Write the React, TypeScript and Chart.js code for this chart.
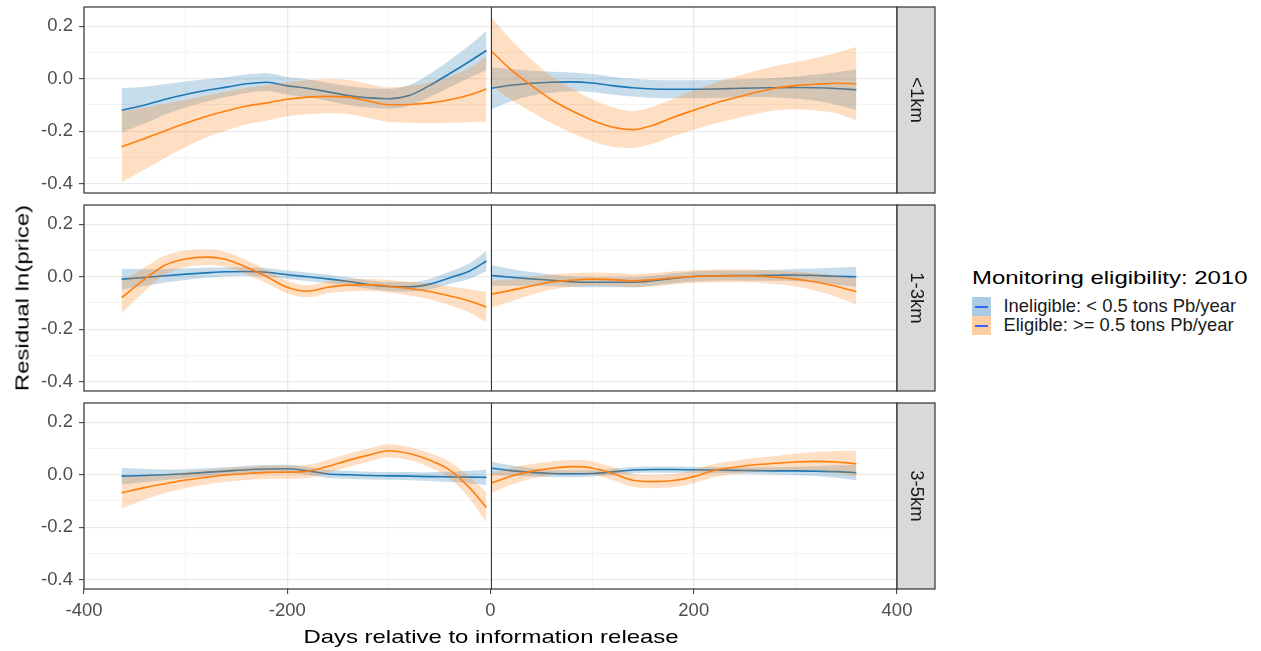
import React, { useEffect, useRef } from 'react';
import { Chart, registerables } from 'chart.js';

Chart.register(...registerables);

const FONT = "'Liberation Sans', Arial, Helvetica, sans-serif";

// ---------------- data ----------------
const preDays = [-363, -340, -320, -300, -280, -260, -240, -220, -200, -180, -160, -140, -120, -100, -80, -60, -40, -20, -4];
const postDays = [1, 20, 40, 60, 80, 100, 120, 140, 160, 180, 200, 220, 240, 260, 280, 300, 320, 340, 360];

const panelLabels = ['<1km', '1-3km', '3-5km'];
const yTickValues = [-0.4, -0.3, -0.2, -0.1, 0, 0.1, 0.2];
const xTickValues = [-400, -300, -200, -100, 0, 100, 200, 300, 400];
const legendTitle = 'Monitoring eligibility: 2010';
const seriesLabels = ['Ineligible: < 0.5 tons Pb/year', 'Eligible: >= 0.5 tons Pb/year'];
const xTitle = 'Days relative to information release';
const yTitle = 'Residual ln(price)';

// <1km
const lt1IneligPre = [-0.120, -0.100, -0.078, -0.060, -0.045, -0.032, -0.019, -0.013, -0.027, -0.036, -0.050, -0.064, -0.073, -0.076, -0.064, -0.026, 0.020, 0.068, 0.108];
const lt1IneligPreCI = [0.085, 0.07, 0.058, 0.05, 0.043, 0.038, 0.035, 0.034, 0.034, 0.034, 0.035, 0.036, 0.037, 0.038, 0.04, 0.044, 0.052, 0.062, 0.075];
const lt1IneligPost = [-0.036, -0.025, -0.017, -0.013, -0.012, -0.016, -0.026, -0.034, -0.039, -0.040, -0.040, -0.039, -0.037, -0.035, -0.034, -0.033, -0.034, -0.037, -0.042];
const lt1IneligPostCI = [0.08, 0.062, 0.048, 0.04, 0.036, 0.034, 0.034, 0.034, 0.034, 0.034, 0.034, 0.034, 0.034, 0.035, 0.037, 0.042, 0.05, 0.062, 0.077];
const lt1EligPre = [-0.259, -0.228, -0.198, -0.170, -0.144, -0.123, -0.104, -0.092, -0.078, -0.070, -0.067, -0.070, -0.085, -0.099, -0.098, -0.092, -0.080, -0.061, -0.039];
const lt1EligPreCI = [0.135, 0.118, 0.103, 0.09, 0.08, 0.074, 0.07, 0.067, 0.065, 0.065, 0.065, 0.065, 0.065, 0.066, 0.07, 0.078, 0.088, 0.104, 0.125];
const lt1EligPost = [0.105, 0.035, -0.025, -0.080, -0.122, -0.158, -0.184, -0.194, -0.177, -0.147, -0.120, -0.094, -0.073, -0.053, -0.036, -0.026, -0.021, -0.017, -0.019];
const lt1EligPostCI = [0.13, 0.115, 0.1, 0.09, 0.085, 0.08, 0.075, 0.07, 0.07, 0.072, 0.075, 0.078, 0.08, 0.082, 0.085, 0.09, 0.1, 0.115, 0.14];

// 1-3km
const km13IneligPre = [-0.009, -0.003, 0.004, 0.010, 0.015, 0.019, 0.020, 0.017, 0.008, 0.000, -0.008, -0.018, -0.030, -0.037, -0.038, -0.028, -0.004, 0.023, 0.060];
const km13IneligPreCI = [0.04, 0.032, 0.026, 0.022, 0.019, 0.017, 0.016, 0.016, 0.016, 0.016, 0.016, 0.016, 0.016, 0.017, 0.018, 0.02, 0.024, 0.03, 0.038];
const km13IneligPost = [0.005, -0.002, -0.008, -0.013, -0.019, -0.021, -0.021, -0.021, -0.015, -0.006, 0.001, 0.004, 0.005, 0.005, 0.006, 0.007, 0.005, 0.002, 0.000];
const km13IneligPostCI = [0.04, 0.032, 0.026, 0.022, 0.02, 0.019, 0.019, 0.019, 0.019, 0.019, 0.019, 0.019, 0.019, 0.02, 0.021, 0.023, 0.027, 0.032, 0.038];
const km13EligPre = [-0.080, -0.008, 0.045, 0.068, 0.075, 0.066, 0.036, 0.000, -0.040, -0.055, -0.040, -0.032, -0.031, -0.036, -0.045, -0.056, -0.073, -0.093, -0.115];
const km13EligPreCI = [0.06, 0.045, 0.036, 0.032, 0.03, 0.029, 0.027, 0.025, 0.024, 0.023, 0.023, 0.023, 0.023, 0.024, 0.026, 0.03, 0.036, 0.045, 0.058];
const km13EligPost = [-0.066, -0.052, -0.035, -0.020, -0.013, -0.009, -0.011, -0.015, -0.011, -0.004, 0.001, 0.003, 0.004, 0.003, -0.002, -0.009, -0.020, -0.036, -0.057];
const km13EligPostCI = [0.052, 0.042, 0.034, 0.029, 0.026, 0.025, 0.025, 0.025, 0.025, 0.025, 0.025, 0.025, 0.025, 0.025, 0.026, 0.028, 0.033, 0.04, 0.05];

// 3-5km
const km35IneligPre = [-0.005, -0.003, 0.000, 0.004, 0.009, 0.014, 0.019, 0.022, 0.023, 0.015, 0.003, 0.000, -0.003, -0.004, -0.005, -0.007, -0.008, -0.009, -0.010];
const km35IneligPreCI = [0.032, 0.025, 0.02, 0.017, 0.016, 0.015, 0.015, 0.015, 0.015, 0.015, 0.015, 0.015, 0.015, 0.015, 0.016, 0.017, 0.02, 0.024, 0.03];
const km35IneligPost = [0.025, 0.016, 0.009, 0.005, 0.004, 0.005, 0.011, 0.018, 0.020, 0.020, 0.019, 0.018, 0.017, 0.016, 0.015, 0.015, 0.014, 0.012, 0.008];
const km35IneligPostCI = [0.025, 0.02, 0.016, 0.014, 0.013, 0.012, 0.012, 0.012, 0.012, 0.012, 0.012, 0.012, 0.012, 0.013, 0.014, 0.016, 0.019, 0.023, 0.029];
const km35EligPre = [-0.069, -0.049, -0.034, -0.020, -0.010, -0.001, 0.005, 0.009, 0.010, 0.013, 0.032, 0.055, 0.075, 0.092, 0.081, 0.056, 0.018, -0.052, -0.125];
const km35EligPreCI = [0.06, 0.045, 0.036, 0.031, 0.028, 0.026, 0.025, 0.025, 0.025, 0.025, 0.025, 0.025, 0.025, 0.025, 0.025, 0.027, 0.032, 0.042, 0.057];
const km35EligPost = [-0.031, -0.006, 0.013, 0.025, 0.031, 0.026, 0.005, -0.021, -0.026, -0.022, -0.007, 0.016, 0.029, 0.038, 0.044, 0.049, 0.051, 0.049, 0.042];
const km35EligPostCI = [0.038, 0.032, 0.028, 0.026, 0.025, 0.025, 0.025, 0.025, 0.025, 0.025, 0.025, 0.025, 0.025, 0.026, 0.028, 0.031, 0.036, 0.042, 0.05];

const panelData = [
  [[lt1IneligPre, lt1IneligPreCI, lt1IneligPost, lt1IneligPostCI], [lt1EligPre, lt1EligPreCI, lt1EligPost, lt1EligPostCI]],
  [[km13IneligPre, km13IneligPreCI, km13IneligPost, km13IneligPostCI], [km13EligPre, km13EligPreCI, km13EligPost, km13EligPostCI]],
  [[km35IneligPre, km35IneligPreCI, km35IneligPost, km35IneligPostCI], [km35EligPre, km35EligPreCI, km35EligPost, km35EligPostCI]],
];

// ---------------- styles ----------------
const lineColors = ['#1F77B4', '#FF7F0E'];
const bandColors = ['rgba(31,119,180,0.25)', 'rgba(255,127,14,0.25)'];
const keyColors = ['rgba(31,119,180,0.38)', 'rgba(255,127,14,0.38)'];

const Y_MIN = -0.436;
const Y_MAX = 0.274;
const CANVAS_W = 940;
const PLOT_RIGHT = 897;
const PLOT_LEFT = 84;
const PANEL_H = 186;
const PANEL_TOPS = [7, 205, 403];
const PAD = 4;
const X_AXIS_H = 40;

function isMajorY(v: number) {
  return Math.abs(Math.round(v * 10)) % 2 === 0;
}
function isMajorX(v: number) {
  return Math.abs(Math.round(v)) % 200 === 0;
}

function bandSet(days: number[], fit: number[], ci: number[], color: string, fillColor: string) {
  const common: any = {
    type: 'line',
    cubicInterpolationMode: 'monotone',
    pointRadius: 0,
    pointHoverRadius: 0,
  };
  return [
    { ...common, data: days.map((d, i) => ({ x: d, y: fit[i] - ci[i] })), borderColor: 'rgba(0,0,0,0)', borderWidth: 1, fill: false },
    { ...common, data: days.map((d, i) => ({ x: d, y: fit[i] + ci[i] })), borderColor: 'rgba(0,0,0,0)', borderWidth: 1, backgroundColor: fillColor, fill: '-1' },
    { ...common, data: days.map((d, i) => ({ x: d, y: fit[i] })), borderColor: color, borderWidth: 1.6, fill: false },
  ];
}

function Panel({ index }: { index: number }) {
  const ref = useRef<HTMLCanvasElement | null>(null);
  const bottom = index === panelLabels.length - 1;
  const canvasH = PAD + PANEL_H + (bottom ? X_AXIS_H : PAD);
  const canvasTop = PANEL_TOPS[index] - PAD;

  useEffect(() => {
    if (!ref.current) return;
    const datasets: any[] = [];
    panelData[index].forEach((s, si) => {
      datasets.push(...bandSet(preDays, s[0], s[1], lineColors[si], bandColors[si]));
      datasets.push(...bandSet(postDays, s[2], s[3], lineColors[si], bandColors[si]));
    });
    datasets.forEach((d, i) => (d.order = datasets.length - i));

    const label = panelLabels[index];
    const decor = {
      id: 'decor' + index,
      afterDatasetsDraw(chart: any) {
        const { ctx, chartArea: a, scales } = chart;
        ctx.save();
        const x0 = Math.round(scales.x.getPixelForValue(0)) + 0.5;
        ctx.strokeStyle = '#333333';
        ctx.lineWidth = 1;
        ctx.beginPath();
        ctx.moveTo(x0, a.top);
        ctx.lineTo(x0, a.bottom);
        ctx.stroke();
        ctx.lineWidth = 1.2;
        ctx.strokeRect(a.left, a.top, a.right - a.left, a.bottom - a.top);
        ctx.fillStyle = '#D9D9D9';
        ctx.fillRect(a.right, a.top, 38, a.bottom - a.top);
        ctx.strokeRect(a.right, a.top, 38, a.bottom - a.top);
        ctx.translate(a.right + 19, (a.top + a.bottom) / 2);
        ctx.rotate(Math.PI / 2);
        ctx.fillStyle = '#1A1A1A';
        ctx.font = `18.5px ${FONT}`;
        ctx.textAlign = 'center';
        ctx.textBaseline = 'middle';
        ctx.fillText(label, 0, 0);
        ctx.restore();
      },
    };

    const chart = new Chart(ref.current, {
      type: 'line',
      data: { datasets },
      plugins: [decor],
      options: {
        responsive: false,
        animation: false,
        events: [],
        layout: { padding: { top: PAD, bottom: bottom ? 0 : PAD, left: 0, right: CANVAS_W - PLOT_RIGHT } },
        plugins: { legend: { display: false }, tooltip: { enabled: false } },
        scales: {
          x: {
            type: 'linear',
            min: -400,
            max: 400,
            afterBuildTicks: (s: any) => {
              s.ticks = xTickValues.map((v) => ({ value: v }));
            },
            afterFit: (s: any) => {
              s.height = bottom ? X_AXIS_H : 0;
              s.paddingLeft = 0;
              s.paddingRight = 0;
              s.paddingTop = 0;
              s.paddingBottom = 0;
            },
            border: { display: false },
            grid: {
              drawTicks: bottom,
              tickLength: 5,
              tickWidth: 1,
              color: (c: any) => (c.tick && isMajorX(c.tick.value) ? '#EAEAEA' : '#F1F1F1'),
              lineWidth: (c: any) => (c.tick && isMajorX(c.tick.value) ? 1.3 : 0.8),
              tickColor: (c: any) => (c.tick && isMajorX(c.tick.value) ? '#333333' : 'rgba(0,0,0,0)'),
            },
            ticks: {
              display: bottom,
              autoSkip: false,
              maxRotation: 0,
              minRotation: 0,
              padding: 6,
              color: '#4D4D4D',
              font: { family: FONT, size: 18.5 },
              callback: (v: any) => (isMajorX(Number(v)) ? String(v) : ''),
            },
          },
          y: {
            type: 'linear',
            min: Y_MIN,
            max: Y_MAX,
            afterBuildTicks: (s: any) => {
              s.ticks = yTickValues.map((v) => ({ value: v }));
            },
            afterFit: (s: any) => {
              s.width = PLOT_LEFT;
              s.paddingTop = 0;
              s.paddingBottom = 0;
              s.paddingLeft = 0;
              s.paddingRight = 0;
            },
            border: { display: false },
            grid: {
              drawTicks: true,
              tickLength: 5,
              tickWidth: 1,
              color: (c: any) => (c.tick && isMajorY(c.tick.value) ? '#EAEAEA' : '#F1F1F1'),
              lineWidth: (c: any) => (c.tick && isMajorY(c.tick.value) ? 1.3 : 0.8),
              tickColor: (c: any) => (c.tick && isMajorY(c.tick.value) ? '#333333' : 'rgba(0,0,0,0)'),
            },
            ticks: {
              autoSkip: false,
              padding: 6,
              color: '#4D4D4D',
              font: { family: FONT, size: 18.5 },
              callback: (v: any) => (isMajorY(Number(v)) ? Number(v).toFixed(1) : ''),
            },
          },
        },
      } as any,
    } as any);
    return () => chart.destroy();
  }, [index]);

  return (
    <canvas
      ref={ref}
      width={CANVAS_W}
      height={canvasH}
      style={{ position: 'absolute', left: 0, top: canvasTop, width: CANVAS_W, height: canvasH }}
    />
  );
}

export default function App() {
  const titleStyle: React.CSSProperties = {
    position: 'absolute',
    fontFamily: FONT,
    fontSize: 19,
    lineHeight: '19px',
    color: '#000',
    whiteSpace: 'nowrap',
  };
  return (
    <div style={{ position: 'fixed', left: 0, top: 0, width: 1261, height: 651, background: '#fff', overflow: 'hidden' }}>
      {panelLabels.map((_, i) => (
        <Panel key={i} index={i} />
      ))}
      <div
        style={{
          ...titleStyle,
          left: 22,
          top: 298,
          transform: 'translate(-50%, -50%) rotate(-90deg) scaleX(1.26)',
        }}
      >
        {yTitle}
      </div>
      <div
        style={{
          ...titleStyle,
          left: (PLOT_LEFT + PLOT_RIGHT) / 2,
          top: 627,
          transform: 'translate(-50%, 0) scaleX(1.26)',
        }}
      >
        {xTitle}
      </div>
      <div style={{ ...titleStyle, left: 972, top: 268, transformOrigin: 'left center', transform: 'scaleX(1.26)' }}>
        {legendTitle}
      </div>
      {seriesLabels.map((lab, i) => (
        <React.Fragment key={lab}>
          <div
            style={{
              position: 'absolute',
              left: 972,
              top: 297 + i * 19,
              width: 19,
              height: 19,
              background: keyColors[i],
            }}
          >
            <div
              style={{ position: 'absolute', left: 3, top: 9, width: 13, height: 1.5, background: '#3366FF' }}
            />
          </div>
          <div
            style={{
              position: 'absolute',
              left: 1003.5,
              top: 297 + i * 19,
              fontFamily: FONT,
              fontSize: 18.4,
              lineHeight: '18.4px',
              color: '#1A1A1A',
              whiteSpace: 'nowrap',
            }}
          >
            {lab}
          </div>
        </React.Fragment>
      ))}
    </div>
  );
}
